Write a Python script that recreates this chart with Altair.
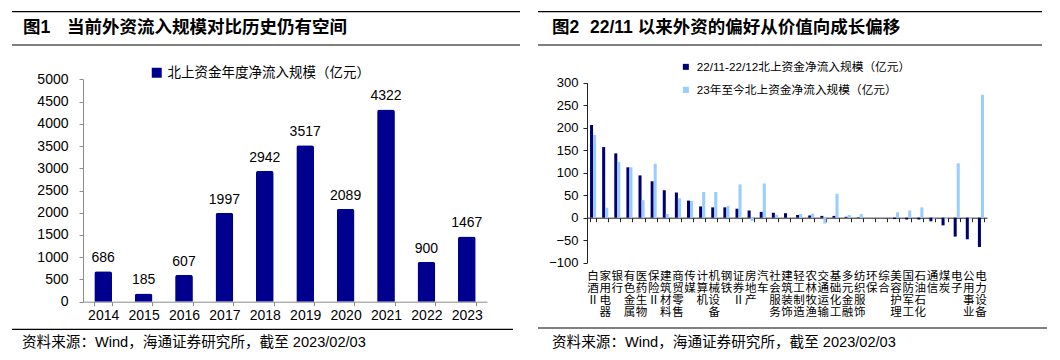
import altair as alt
import pandas as pd

FONT = "Liberation Sans, Noto Sans CJK SC"

# ---------------- data ----------------
years = ["2014", "2015", "2016", "2017", "2018", "2019", "2020", "2021", "2022", "2023"]
annual_inflow = [686, 185, 607, 1997, 2942, 3517, 2089, 4322, 900, 1467]
left_series = "北上资金年度净流入规模（亿元）"

industries = ["白酒Ⅱ", "家用电器", "银行", "有色金属", "医药生物", "保险Ⅱ", "建筑材料", "商贸零售",
              "传媒", "计算机", "机械设备", "钢铁", "证券Ⅱ", "房地产", "汽车", "社会服务", "建筑装饰",
              "轻工制造", "农林牧渔", "交通运输", "基础化工", "多元金融", "纺织服饰", "环保", "综合",
              "美容护理", "国防军工", "石油石化", "通信", "煤炭", "电子", "公用事业", "电力设备"]
flow_2211_2212 = [206, 157, 143, 112, 94, 81, 61, 56, 38, 25, 23, 23, 20, 16, 13, 11, 10, 6, 5, 4,
                  4, 2, 1, 0, 0, -3, -4, -4, -8, -17, -42, -48, -65]
flow_2023_ytd = [184, 22, 124, 112, 39, 120, 8, 43, 37, 57, 57, 26, 74, -7, 76, 6, 1, 8, 9, -13,
                 53, 6, 8, 0, 0, 12, 16, 23, -2, -3, 121, -3, 273]
s1 = "22/11-22/12北上资金净流入规模（亿元）"
s2 = "23年至今北上资金净流入规模（亿元）"

title1_tag, title1 = "图1", "当前外资流入规模对比历史仍有空间"
title2_tag, title2 = "图2", "22/11 以来外资的偏好从价值向成长偏移"
source = "资料来源：Wind，海通证券研究所，截至 2023/02/03"

W, H = 1044, 344

# ---------------- left panel ----------------
left_df = pd.DataFrame({"year": years, "value": annual_inflow, "series": left_series})
gray = "#8c8c8c"
xL = alt.X("year:N", sort=years,
           scale=alt.Scale(range=[75, 479], paddingInner=0.56, paddingOuter=0.28),
           axis=alt.Axis(orient="bottom", offset=-(H - 293.7), title=None, labelAngle=0,
                         labelFontSize=14, labelPadding=3, tickSize=4, tickBand="extent",
                         domainColor=gray, tickColor=gray, labelColor="#000"))
yL = alt.Y("value:Q",
           scale=alt.Scale(domain=[0, 5000], range=[293.7, 71.3], nice=False),
           axis=alt.Axis(orient="left", offset=-75, values=list(range(0, 5001, 500)), title=None,
                         format="d", grid=False, labelFontSize=14, labelPadding=11, tickSize=4,
                         domainColor=gray, tickColor=gray, labelColor="#000"))
bars_l = alt.Chart(left_df).mark_bar(cornerRadiusTopLeft=2.5, cornerRadiusTopRight=2.5).encode(
    x=xL, y=yL,
    color=alt.Color("series:N",
                    scale=alt.Scale(domain=[left_series], range=["#00008f"]),
                    legend=alt.Legend(orient="none", legendX=142, legendY=58, title=None,
                                      symbolType="square", symbolSize=100, labelFontSize=13.5,
                                      labelLimit=0, labelOffset=4, symbolStrokeWidth=0, padding=0)))
text_l = alt.Chart(left_df).mark_text(baseline="bottom", dy=-6, fontSize=14, font=FONT, color="#000").encode(
    x=xL, y=yL, text=alt.Text("value:Q", format="d"))
left = alt.layer(bars_l, text_l)

# ---------------- right panel ----------------
right_df = pd.DataFrame({
    "industry": industries * 2,
    "series": [s1] * len(industries) + [s2] * len(industries),
    "value": flow_2211_2212 + flow_2023_ytd,
})
dark = "#222222"
xR_scale = alt.Scale(range=[579, 979], paddingInner=0.5, paddingOuter=0.25)
xR_labels = alt.X("industry:N", sort=industries, scale=xR_scale,
                  axis=alt.Axis(orient="bottom", offset=-(H - 254.7), title=None, domain=False,
                                ticks=False, labelAngle=0, labelExpr="split(datum.label, '')",
                                labelFontSize=11.5, labelLineHeight=12, labelPadding=8,
                                labelOverlap=False, labelColor="#000"))
yR = alt.Y("value:Q", scale=alt.Scale(domain=[-100, 300], range=[254.7, 74.7], nice=False),
           axis=alt.Axis(orient="left", offset=-579, values=list(range(-100, 301, 50)), title=None,
                         format="d", grid=False, labelFontSize=13, labelPadding=5, tickSize=4,
                         domainColor=dark, tickColor=dark, labelColor="#000"))
bars_r = alt.Chart(right_df).mark_bar().encode(
    x=xR_labels,
    xOffset=alt.XOffset("series:N", sort=[s1, s2], scale=alt.Scale(paddingInner=0)),
    y=yR,
    color=alt.Color("series:N", sort=[s1, s2],
                    scale=alt.Scale(domain=[s1, s2], range=["#000070", "#99ccff"]),
                    legend=alt.Legend(orient="none", legendX=672, legendY=53, title=None,
                                      direction="vertical", symbolType="square", symbolSize=36,
                                      labelFontSize=11.7, labelLimit=0, labelOffset=5,
                                      rowPadding=10, symbolStrokeWidth=0, padding=0)))
zero_axis = alt.Chart(right_df).mark_rule(opacity=0).encode(
    x=alt.X("industry:N", sort=industries, scale=xR_scale,
            axis=alt.Axis(orient="bottom", offset=-(H - 209.7), title=None, labels=False,
                          domain=True, ticks=True, tickSize=4, tickBand="extent",
                          domainColor=dark, tickColor=dark)))
right = alt.layer(bars_r, zero_axis).resolve_axis(x="independent")


# ---------------- decorations ----------------
def hline(x1, x2, y):
    return alt.Chart(pd.DataFrame({"k": [0]})).mark_rule(color="#000", strokeWidth=1.2).encode(
        x=alt.value(x1), x2=alt.value(x2), y=alt.value(y))


def txt(s, x, y, size, bold=False):
    return alt.Chart(pd.DataFrame({"t": [s]})).mark_text(
        align="left", baseline="middle", fontSize=size, font=FONT,
        fontWeight="bold" if bold else "normal", color="#000").encode(
        x=alt.value(x), y=alt.value(y), text="t:N")


decos = [
    hline(4, 512, 3.7), hline(4, 512, 37), hline(4, 505, 321.3),
    hline(530, 1034, 3.7), hline(530, 1034, 37), hline(530, 1039, 320),
    txt(title1_tag, 15, 20, 17.5, True), txt(title1, 59, 20, 17.5, True),
    txt(title2_tag, 544, 20, 17.5, True), txt(title2, 582, 20, 17.5, True),
    txt(source, 14, 335, 14.6), txt(source, 544, 335, 14.6),
]

chart = alt.layer(left, right, *decos).resolve_scale(
    x="independent", y="independent", color="independent"
).properties(
    width=W, height=H, autosize=alt.AutoSizeParams(type="none"), padding=0
).configure_view(stroke=None).configure_axis(labelFont=FONT).configure_legend(labelFont=FONT)

chart.save("out.html", embed_options={"renderer": "svg", "actions": False})
